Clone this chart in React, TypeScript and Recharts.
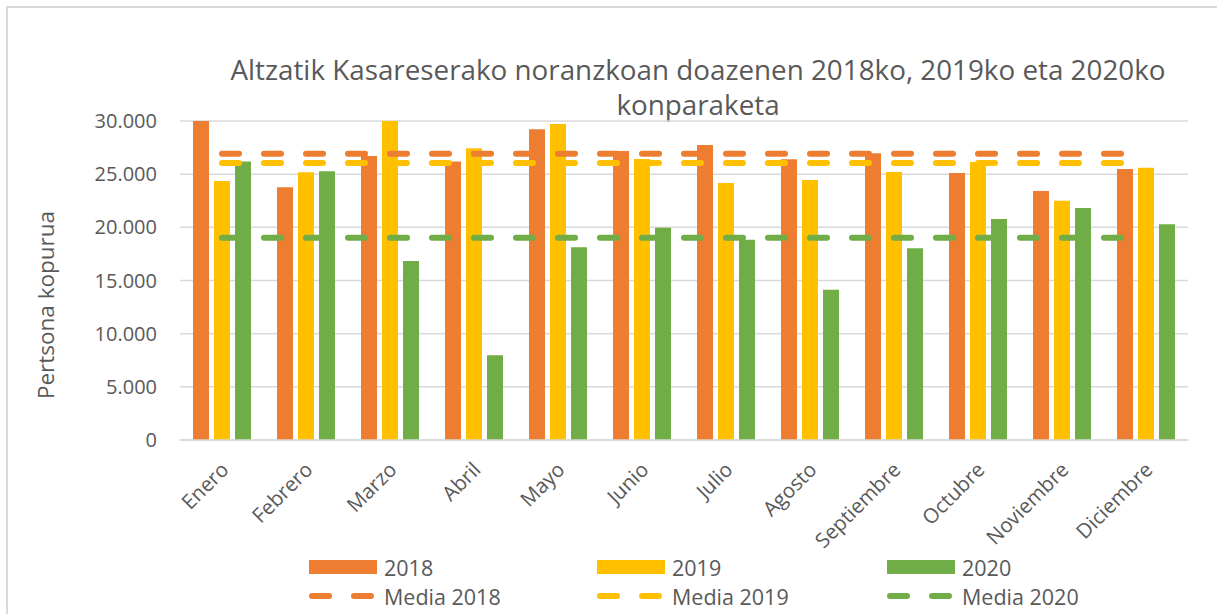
import { ComposedChart, Bar, Line, XAxis, YAxis, CartesianGrid } from "recharts";

const MONTHS = ["Enero", "Febrero", "Marzo", "Abril", "Mayo", "Junio", "Julio", "Agosto", "Septiembre", "Octubre", "Noviembre", "Diciembre"];

const Y2018 = [35000, 23770, 26700, 26180, 29220, 27180, 27740, 26400, 26960, 25110, 23420, 25490];
const Y2019 = [24360, 25170, 31400, 27430, 29720, 26430, 24170, 24450, 25200, 26150, 22510, 25610];
const Y2020 = [26200, 25270, 16830, 7960, 18120, 19970, 18840, 14140, 18030, 20780, 21820, 20280];

const MEDIA_2018 = [26930, 26930, 26930, 26930, 26930, 26930, 26930, 26930, 26930, 26930, 26930, 26930];
const MEDIA_2019 = [26050, 26050, 26050, 26050, 26050, 26050, 26050, 26050, 26050, 26050, 26050, 26050];
const MEDIA_2020 = [19020, 19020, 19020, 19020, 19020, 19020, 19020, 19020, 19020, 19020, 19020, 19020];

const Y_TICKS = [0, 5000, 10000, 15000, 20000, 25000, 30000];

const BAR_SERIES = [
  { key: "2018", color: "#ED7D31" },
  { key: "2019", color: "#FFC000" },
  { key: "2020", color: "#70AD47" },
];
const LINE_SERIES = [
  { key: "Media 2018", color: "#ED7D31" },
  { key: "Media 2019", color: "#FFC000" },
  { key: "Media 2020", color: "#70AD47" },
];

const data = MONTHS.map((m, i) => ({
  name: m,
  "2018": Y2018[i],
  "2019": Y2019[i],
  "2020": Y2020[i],
  "Media 2018": MEDIA_2018[i],
  "Media 2019": MEDIA_2019[i],
  "Media 2020": MEDIA_2020[i],
}));

const FONT = "'Open Sans', 'Noto Sans', sans-serif";
const TEXT = "#595959";
const GRID = "#D9D9D9";

const fmt = (v: number) => String(v).replace(/\B(?=(\d{3})+(?!\d))/g, ".");

const MonthTick = (props: any) => {
  const { x, y, payload } = props;
  return (
    <g transform={`translate(${x + 8},${y + 31})`}>
      <text textAnchor="end" transform="rotate(-45)" fill={TEXT} fontSize={20.5} fontFamily={FONT}>
        {payload.value}
      </text>
    </g>
  );
};

const LEGEND_X = [309, 597, 887];

export default function App() {
  return (
    <div style={{ position: "absolute", left: 0, top: 0, width: 1217, height: 614, background: "#fff", fontFamily: FONT, overflow: "hidden" }}>
      <div style={{ position: "absolute", left: 6, top: 6, width: 1300, height: 700, borderTop: `2px solid ${GRID}`, borderLeft: `2px solid ${GRID}` }} />

      <div style={{ position: "absolute", left: 0, width: 1396, top: 52, textAlign: "center", fontSize: 27.8, lineHeight: "35px", color: TEXT, whiteSpace: "nowrap" }}>
        Altzatik Kasareserako noranzkoan doazenen 2018ko, 2019ko eta 2020ko
        <br />
        konparaketa
      </div>

      <div style={{ position: "absolute", left: 45, top: 305, transform: "translate(-50%, -50%) rotate(-90deg)", fontSize: 22.5, color: TEXT, whiteSpace: "nowrap" }}>
        Pertsona kopurua
      </div>

      <div style={{ position: "absolute", left: 0, top: 0 }}>
        <ComposedChart width={1217} height={614} data={data} margin={{ top: 121, right: 29, left: 100, bottom: 74 }} barSize={16} barGap={5}>
          <CartesianGrid vertical={false} stroke={GRID} strokeWidth={1.5} />
          <XAxis
            dataKey="name"
            height={100}
            tickSize={0}
            tickMargin={0}
            axisLine={{ stroke: GRID, strokeWidth: 1.5 }}
            tickLine={false}
            interval={0}
            tick={<MonthTick />}
          />
          <YAxis
            width={80}
            domain={[0, 30000]}
            ticks={Y_TICKS}
            allowDataOverflow
            axisLine={false}
            tickLine={false}
            tickSize={0}
            tickMargin={23}
            tickFormatter={fmt}
            tick={{ fill: TEXT, fontSize: 20, fontFamily: FONT }}
          />
          {BAR_SERIES.map((s) => (
            <Bar key={s.key} dataKey={s.key} fill={s.color} isAnimationActive={false} />
          ))}
          {LINE_SERIES.map((s) => (
            <Line
              key={s.key}
              dataKey={s.key}
              stroke={s.color}
              strokeWidth={6}
              strokeDasharray="17 25"
              strokeLinecap="round"
              dot={false}
              activeDot={false}
              type="linear"
              isAnimationActive={false}
            />
          ))}
        </ComposedChart>
      </div>

      {BAR_SERIES.map((s, i) => (
        <div key={s.key} style={{ position: "absolute", left: LEGEND_X[i], top: 553, height: 28, display: "flex", alignItems: "center", fontSize: 21.5, color: TEXT }}>
          <span style={{ display: "inline-block", width: 68, height: 14, background: s.color, marginRight: 7 }} />
          {s.key}
        </div>
      ))}
      {LINE_SERIES.map((s, i) => (
        <div key={s.key} style={{ position: "absolute", left: LEGEND_X[i] - 2, top: 582, height: 28, display: "flex", alignItems: "center", fontSize: 21.5, color: TEXT }}>
          <svg width={70} height={10} style={{ marginRight: 7 }}>
            <line x1={5} y1={5} x2={70} y2={5} stroke={s.color} strokeWidth={6} strokeLinecap="round" strokeDasharray="17 25" />
          </svg>
          {s.key}
        </div>
      ))}
    </div>
  );
}
